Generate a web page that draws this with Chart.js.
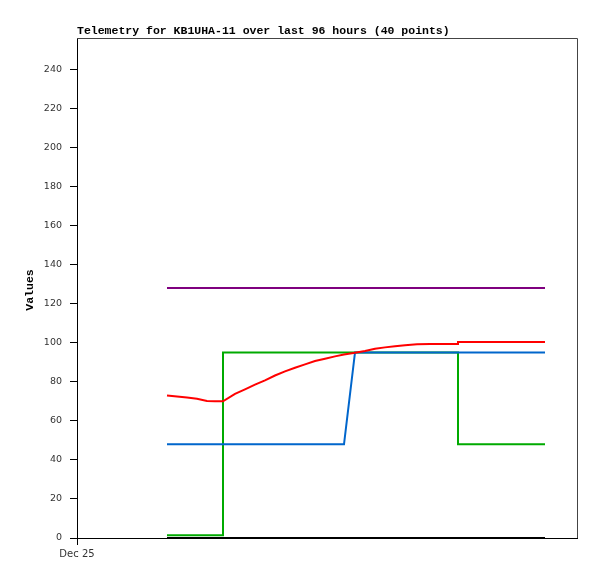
<!DOCTYPE html>
<html>
<head>
<meta charset="utf-8">
<script src="https://cdn.jsdelivr.net/npm/chart.js@4/dist/chart.umd.min.js"></script>
<style>
  html, body { margin: 0; padding: 0; background: #fff; }
  #wrap { width: 597px; height: 579px; position: relative; }
</style>
</head>
<body>
<div id="wrap"><canvas id="c" width="597" height="579"></canvas></div>
<script>
// ---- data (hours after Dec 25 00:00) ----
const chartTitle = "Telemetry for KB1UHA-11 over last 96 hours (40 points)";
const yAxisTitle = "Values";
const xTickLabels = ["Dec 25"];
const xTickHours = [0];

const times = [18, 20, 22, 24, 26, 27.6, 29.2, 29.2, 31.6, 33.6,
               35.6, 37.6, 39.6, 41.6, 43.6, 45.6, 47.6, 49.6, 51.6, 53.4,
               55.6, 57.6, 59.6, 61.6, 63.6, 65.6, 68.0, 70.6, 73.4, 74.8,
               76.2, 76.2, 78.6, 81.0, 83.4, 85.8, 88.2, 90.6, 92.2, 93.6];

const redValues = [73.0, 72.5, 71.9, 71.3, 70.2, 70.0, 70.0, 70.0, 73.8, 76.1,
                   78.5, 80.7, 83.2, 85.3, 87.2, 88.9, 90.6, 91.8, 93.0, 94.0,
                   94.9, 95.7, 96.9, 97.6, 98.2, 98.7, 99.2, 99.3, 99.3, 99.3,
                   99.3, 100.3, 100.3, 100.3, 100.3, 100.3, 100.3, 100.3, 100.3, 100.3];

const blueValues = [48, 48, 48, 48, 48, 48, 48, 48, 48, 48,
                    48, 48, 48, 48, 48, 48, 48, 48, 48, 48,
                    95, 95, 95, 95, 95, 95, 95, 95, 95, 95,
                    95, 95, 95, 95, 95, 95, 95, 95, 95, 95];

const greenValues = [1.4, 1.4, 1.4, 1.4, 1.4, 1.4, 1.4, 95, 95, 95,
                     95, 95, 95, 95, 95, 95, 95, 95, 95, 95,
                     95, 95, 95, 95, 95, 95, 95, 95, 95, 95,
                     95, 48, 48, 48, 48, 48, 48, 48, 48, 48];

const purpleValues = [128, 128, 128, 128, 128, 128, 128, 128, 128, 128,
                      128, 128, 128, 128, 128, 128, 128, 128, 128, 128,
                      128, 128, 128, 128, 128, 128, 128, 128, 128, 128,
                      128, 128, 128, 128, 128, 128, 128, 128, 128, 128];

const blackValues = [0, 0, 0, 0, 0, 0, 0, 0, 0, 0,
                     0, 0, 0, 0, 0, 0, 0, 0, 0, 0,
                     0, 0, 0, 0, 0, 0, 0, 0, 0, 0,
                     0, 0, 0, 0, 0, 0, 0, 0, 0, 0];

const yTickStep = 20;
const yMin = 0, yMax = 256;
const xMin = 0, xMax = 100;

function pts(vals) { return vals.map((v, i) => ({ x: times[i], y: v })); }

const seriesDefs = [
  { label: 'red', values: redValues, color: '#ff0000' },
  { label: 'blue', values: blueValues, color: '#0066cc' },
  { label: 'green', values: greenValues, color: '#00aa00' },
  { label: 'purple', values: purpleValues, color: '#7f007f' },
  { label: 'black', values: blackValues, color: '#000000' }
];

const framePlugin = {
  id: 'frame',
  afterDraw(chart) {
    const { ctx, chartArea: a } = chart;
    ctx.save();
    ctx.strokeStyle = '#444';
    ctx.lineWidth = 1;
    ctx.beginPath();
    ctx.moveTo(a.left, a.top + 0.5);
    ctx.lineTo(a.right + 0.5, a.top + 0.5);
    ctx.lineTo(a.right + 0.5, a.bottom);
    ctx.stroke();
    // title
    ctx.fillStyle = '#000';
    ctx.font = 'bold 11.5px "Liberation Mono", "DejaVu Sans Mono", monospace';
    ctx.textAlign = 'left';
    ctx.textBaseline = 'alphabetic';
    ctx.fillText(chartTitle, a.left, 34);
    // y axis title
    ctx.translate(30, (a.top + a.bottom) / 2 + 2);
    ctx.rotate(-Math.PI / 2);
    ctx.textAlign = 'center';
    ctx.textBaseline = 'middle';
    ctx.fillText(yAxisTitle, 0, 0);
    ctx.restore();
  }
};

new Chart(document.getElementById('c'), {
  type: 'line',
  data: {
    datasets: seriesDefs.map(s => ({
      label: s.label,
      data: pts(s.values),
      borderColor: s.color,
      backgroundColor: s.color,
      borderWidth: 2,
      pointRadius: 0,
      tension: 0,
      fill: false,
      clip: false
    }))
  },
  options: {
    responsive: false,
    animation: false,
    events: [],
    layout: { padding: { left: 0, top: 38, right: 20, bottom: 0 } },
    plugins: { legend: { display: false }, title: { display: false }, tooltip: { enabled: false } },
    scales: {
      x: {
        type: 'linear',
        min: xMin, max: xMax,
        afterFit(scale) { scale.height = 41; },
        afterBuildTicks(scale) { scale.ticks = xTickHours.map(v => ({ value: v })); },
        grid: { drawOnChartArea: false, tickLength: 7, tickColor: '#000', tickWidth: 1 },
        border: { color: '#000', width: 1 },
        ticks: {
          padding: 3,
          color: '#333',
          font: { family: '"DejaVu Sans", sans-serif', size: 10 },
          maxRotation: 0,
          callback(v) { const i = xTickHours.indexOf(v); return i >= 0 ? xTickLabels[i] : ''; }
        }
      },
      y: {
        type: 'linear',
        min: yMin, max: yMax,
        afterFit(scale) { scale.width = 77; },
        grid: { drawOnChartArea: false, tickLength: 7, tickColor: '#000', tickWidth: 1 },
        border: { color: '#000', width: 1 },
        ticks: {
          stepSize: yTickStep,
          includeBounds: false,
          padding: 8,
          color: '#333',
          font: { family: '"DejaVu Sans", sans-serif', size: 9.5 }
        }
      }
    }
  },
  plugins: [framePlugin]
});
</script>
</body>
</html>
